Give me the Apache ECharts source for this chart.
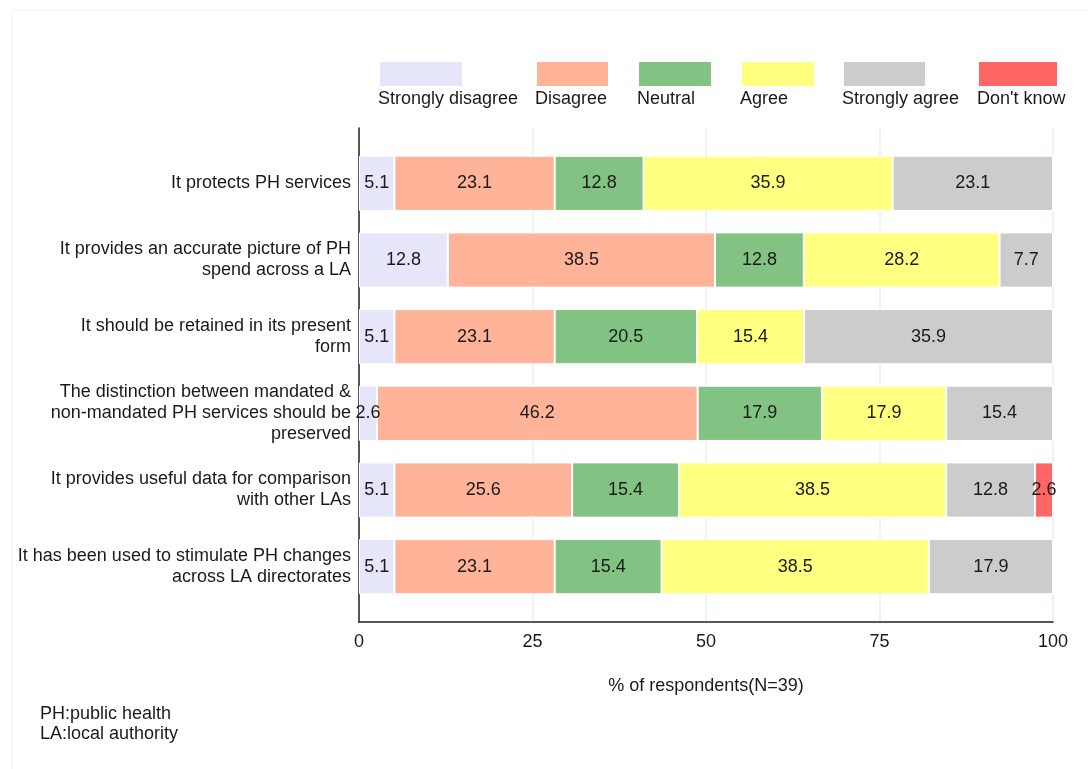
<!DOCTYPE html>
<html>
<head>
<meta charset="utf-8">
<script src="https://cdn.jsdelivr.net/npm/echarts@6/dist/echarts.min.js"></script>
<style>
  html, body { margin: 0; padding: 0; background: #fff; }
  #mychart { width: 1088px; height: 769px; }
</style>
</head>
<body>
<div id="mychart"></div>
<script>
// statements, top to bottom
var statements = [
  'It protects PH services',
  'It provides an accurate picture of PH\nspend across a LA',
  'It should be retained in its present\nform',
  'The distinction between mandated &\nnon-mandated PH services should be\npreserved',
  'It provides useful data for comparison\nwith other LAs',
  'It has been used to stimulate PH changes\nacross LA directorates'
];
var responses = ['Strongly disagree', 'Disagree', 'Neutral', 'Agree', 'Strongly agree', "Don't know"];
var colors = ['#e6e6fa', '#ffb399', '#82c282', '#ffff80', '#cccccc', '#ff6666'];

// % of respondents for each statement
var stronglyDisagree = [5.1, 12.8, 5.1, 2.6, 5.1, 5.1];
var disagree         = [23.1, 38.5, 23.1, 46.2, 25.6, 23.1];
var neutral          = [12.8, 12.8, 20.5, 17.9, 15.4, 15.4];
var agree            = [35.9, 28.2, 15.4, 17.9, 38.5, 38.5];
var stronglyAgree    = [23.1, 7.7, 35.9, 15.4, 12.8, 17.9];
var dontKnow         = [0, 0, 0, 0, 2.6, 0];
var xTicks = [0, 25, 50, 75, 100];

var seriesValues = [stronglyDisagree, disagree, neutral, agree, stronglyAgree, dontKnow];

var font = 'Liberation Sans, Arial, sans-serif';

// legend boxes sit above their text
var legendLeft = [378, 535, 637, 740, 842, 977];
var legendWidth = [84, 73, 74, 74, 83, 80];

var legends = responses.map(function (name, i) {
  return {
    data: [name],
    left: legendLeft[i],
    top: 60,
    itemWidth: legendWidth[i],
    itemHeight: 26,
    padding: 0,
    icon: 'rect',
    selectedMode: false,
    formatter: function () { return ''; }
  };
});

var legendTexts = responses.map(function (name, i) {
  return {
    type: 'text',
    left: legendLeft[i],
    top: 90,
    style: { text: name, fill: '#1a1a1a', font: '18px ' + font }
  };
});

var series = responses.map(function (name, i) {
  return {
    name: name,
    type: 'bar',
    stack: 'total',
    xAxisIndex: 1,
    yAxisIndex: 1,
    barWidth: '72%',
    data: seriesValues[i],
    itemStyle: { color: colors[i], borderColor: '#fff', borderWidth: 1 },
    label: {
      show: true,
      position: 'inside',
      color: '#1a1a1a',
      fontSize: 18,
      fontFamily: font,
      formatter: function (p) { return p.value > 0 ? p.value.toFixed(1) : ''; }
    }
  };
});

var myChart = echarts.init(document.getElementById('mychart'));
var option = {
  backgroundColor: '#fff',
  animation: false,
  textStyle: { fontFamily: font },
  legend: legends,
  graphic: [
    {
      type: 'rect',
      shape: { x: 12, y: 10, width: 1200, height: 900 },
      style: { fill: 'none', stroke: '#edf2ef', lineWidth: 1 },
      silent: true
    },
    {
      type: 'text',
      left: 40,
      top: 704,
      style: {
        text: 'PH:public health\nLA:local authority',
        fill: '#1a1a1a',
        font: '18px ' + font,
        lineHeight: 20
      }
    }
  ].concat(legendTexts),
  grid: [
    { left: 359, right: 35, top: 128, bottom: 147 },
    { left: 359, right: 35, top: 145, bottom: 164 }
  ],
  xAxis: [
    {
      gridIndex: 0,
      type: 'value',
      min: xTicks[0],
      max: xTicks[xTicks.length - 1],
      interval: 25,
      name: '% of respondents(N=39)',
      nameLocation: 'middle',
      nameGap: 55,
      nameTextStyle: { color: '#1a1a1a', fontSize: 18, fontFamily: font },
      axisLine: { show: true, lineStyle: { color: '#222', width: 1.5 } },
      axisTick: { show: false },
      axisLabel: { color: '#1a1a1a', fontSize: 18, fontFamily: font, margin: 11 },
      splitLine: { show: true, lineStyle: { color: '#e8eff2', width: 1.5 } }
    },
    {
      gridIndex: 1,
      type: 'value',
      min: 0,
      max: 100,
      show: false
    }
  ],
  yAxis: [
    {
      gridIndex: 0,
      type: 'value',
      min: 0,
      max: 1,
      axisLine: { show: true, lineStyle: { color: '#222', width: 1.5 } },
      axisTick: { show: false },
      axisLabel: { show: false },
      splitLine: { show: false }
    },
    {
      gridIndex: 1,
      type: 'category',
      inverse: true,
      data: statements,
      axisLine: { show: false },
      axisTick: { show: false },
      axisLabel: {
        color: '#1a1a1a',
        fontSize: 18,
        fontFamily: font,
        lineHeight: 21,
        align: 'right',
        margin: 8
      }
    }
  ],
  series: series
};
myChart.setOption(option, true);
</script>
</body>
</html>
